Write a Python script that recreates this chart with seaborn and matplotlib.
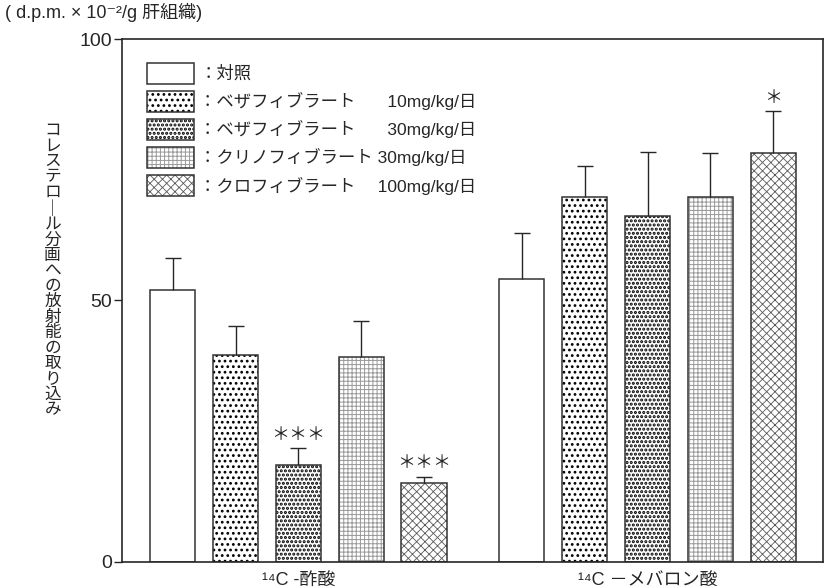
import pandas as pd
import matplotlib
matplotlib.use("Agg")
import matplotlib.pyplot as plt
import matplotlib.patches as mpatches
import matplotlib.colors as mcolors
import seaborn as sns

# values (mean and upper SD bar)
substrates = ["¹⁴C -酢酸", "¹⁴C －メバロン酸"]
treatments = ["対照", "ベザフィブラート 10", "ベザフィブラート 30", "クリノフィブラート 30", "クロフィブラート 100"]
acetate_mean = [52.0, 39.6, 18.5, 39.2, 15.1]
acetate_sd = [6.1, 5.5, 3.3, 6.9, 1.2]
mevalonate_mean = [54.1, 69.8, 66.2, 69.9, 78.2]
mevalonate_sd = [8.8, 6.0, 12.2, 8.4, 8.1]
acetate_sig = ["", "", "＊＊＊", "", "＊＊＊"]
mevalonate_sig = ["", "", "", "", "＊"]
legend_labels = [
    "：対照",
    "：ベザフィブラート\u3000   10mg/kg/日",
    "：ベザフィブラート\u3000   30mg/kg/日",
    "：クリノフィブラート 30mg/kg/日",
    "：クロフィブラート\u3000 100mg/kg/日",
]

df = pd.DataFrame({
    "substrate": [substrates[0]] * 5 + [substrates[1]] * 5,
    "treatment": treatments * 2,
    "value": acetate_mean + mevalonate_mean,
})

sns.set_style("ticks")
plt.rcParams["font.family"] = ["Liberation Sans", "Noto Sans CJK JP", "DejaVu Sans"]

# hatch, hatch colour, hatch linewidth for each treatment
styles = [("", "0.1", 1.0), ("...", "black", 1.2), ("....", "black", 1.5),
          ("++++", "0.6", 0.7), ("xxxx", "0.35", 0.6)]


def style_patch(p, hatch, color, lw):
    p.set_hatch(hatch)
    if hasattr(p, "set_hatch_linewidth"):
        p.set_hatch_linewidth(lw)
    else:
        p._hatch_linewidth = lw
    p._hatch_color = mcolors.to_rgba(color)
    p.stale = True


fig = plt.figure(figsize=(8.25, 5.88), dpi=100)
ax = fig.add_axes([0.148, 0.0447, 0.8497, 0.8885])

sns.barplot(data=df, x="substrate", y="value", hue="treatment",
            palette={t: "white" for t in treatments}, saturation=1,
            width=0.9, gap=0.28, edgecolor="0.2", linewidth=1.1,
            errorbar=None, legend=False, ax=ax)

means = [acetate_mean, mevalonate_mean]
sds = [acetate_sd, mevalonate_sd]
sigs = [acetate_sig, mevalonate_sig]
bar_containers = list(ax.containers)
for i, cont in enumerate(bar_containers):
    hatch, hc, hlw = styles[i]
    xs = []
    for j, bar in enumerate(cont):
        style_patch(bar, hatch, hc, hlw)
        x = bar.get_x() + bar.get_width() / 2
        xs.append(x)
        if sigs[j][i]:
            ax.annotate(sigs[j][i], (x, means[j][i] + sds[j][i]), xytext=(0, 3),
                        textcoords="offset points", ha="center", va="bottom",
                        fontsize=13)
    eb = ax.errorbar(xs, [means[0][i], means[1][i]],
                     yerr=[[0, 0], [sds[0][i], sds[1][i]]],
                     fmt="none", ecolor="0.15", elinewidth=1.0, capsize=6, capthick=1.0)
    # only the upper cap is drawn in the original
    eb[1][0].set_visible(False)

ax.set_xlim(-0.505, 1.503)
ax.set_ylim(0, 100)
ax.set_yticks([0, 50, 100])
ax.tick_params(axis="y", direction="out", length=6, width=1, labelsize=14, pad=1.5)
ax.tick_params(axis="x", length=0, labelsize=13, pad=7)
ax.set_xlabel("")
ax.set_ylabel("")
for s in ax.spines.values():
    s.set_visible(True)
    s.set_linewidth(1.2)
    s.set_color("0.15")

handles = []
for hatch, hc, hlw in styles:
    handles.append(mpatches.Patch(facecolor="white", edgecolor="0.2", linewidth=1.1, hatch=hatch))
leg = ax.legend(handles, legend_labels, loc="upper left", bbox_to_anchor=(0.036, 0.955),
                frameon=False, fontsize=12.5, handlelength=2.7, handleheight=1.5,
                labelspacing=0.4, handletextpad=0.3, borderaxespad=0, borderpad=0)
for p, (hatch, hc, hlw) in zip(leg.get_patches(), styles):
    style_patch(p, hatch, hc, hlw)

# vertical (top-to-bottom) axis title, one character per line
ylab = "コレステロ｜ル分画への放射能の取り込み"
fig.text(0.064, 0.541, "\n".join(ylab), ha="center", va="center",
         fontsize=12, linespacing=1.03)
fig.text(0.006, 0.978, "( d.p.m. × 10⁻²/g 肝組織)", ha="left", va="center", fontsize=13)

fig.savefig("out.png", dpi=100)
